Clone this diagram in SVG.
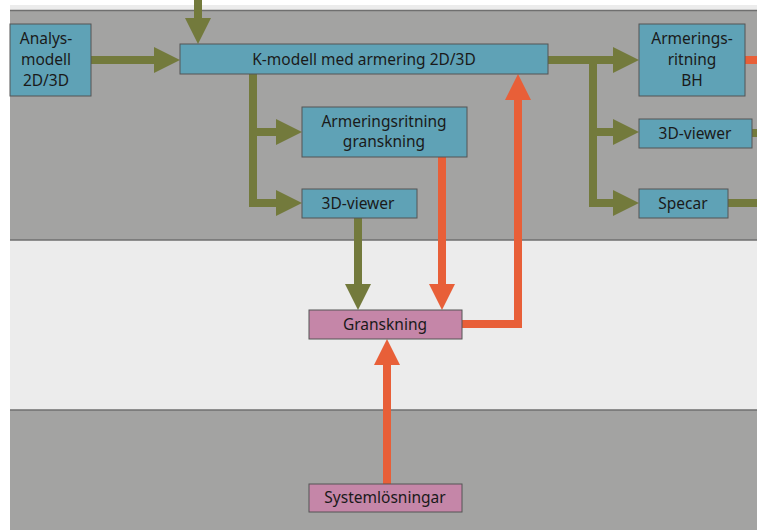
<svg xmlns="http://www.w3.org/2000/svg" width="757" height="530" viewBox="0 0 757 530">
<defs>
<style>
.node{fill:#5fa2b6;stroke:#555;stroke-width:1}
.pink{fill:#c586a8;stroke:#555;stroke-width:1}
.t{font-family:"Noto Sans","DejaVu Sans",sans-serif;font-size:15.5px;fill:#1a1a1a;text-anchor:middle}
.ol{fill:none;stroke:#737a3c;stroke-width:8;stroke-linejoin:miter}
.or{fill:none;stroke:#e85f38;stroke-width:8;stroke-linejoin:miter}
.bd{stroke:#6f6f6f;stroke-width:1.5}
</style>
<marker id="ao" markerUnits="userSpaceOnUse" markerWidth="27" markerHeight="27" refX="0" refY="13" orient="auto" viewBox="0 0 27 26"><path d="M0,0 L26,13 L0,26 z" fill="#737a3c"/></marker>
<marker id="ar" markerUnits="userSpaceOnUse" markerWidth="27" markerHeight="27" refX="0" refY="13" orient="auto" viewBox="0 0 27 26"><path d="M0,0 L26,13 L0,26 z" fill="#e85f38"/></marker>
</defs>
<g id="bands">
<rect x="0" y="0" width="757" height="530" fill="#ffffff"/>
<rect x="10" y="5" width="747" height="525" fill="#ececec"/>
<rect x="10" y="10" width="747" height="230" fill="#a3a3a2"/>
<rect x="10" y="410" width="747" height="120" fill="#a3a3a2"/>
<line class="bd" x1="10" y1="10.5" x2="757" y2="10.5"/>
<line class="bd" x1="10" y1="240" x2="757" y2="240"/>
<line class="bd" x1="10" y1="410" x2="757" y2="410"/>
</g>
<g id="connectors">
<path class="ol" d="M198,0 V18" marker-end="url(#ao)"/>
<path class="ol" d="M91,60 H154" marker-end="url(#ao)"/>
<path class="ol" d="M253,74 V203 H276" marker-end="url(#ao)"/>
<path class="ol" d="M253,132 H276" marker-end="url(#ao)"/>
<path class="ol" d="M548,60 H613" marker-end="url(#ao)"/>
<path class="ol" d="M593,60 V203 H613" marker-end="url(#ao)"/>
<path class="ol" d="M593,132 H613" marker-end="url(#ao)"/>
<path class="ol" d="M752,133 H757"/>
<path class="ol" d="M728,203 H757"/>
<path class="ol" d="M358,218 V284" marker-end="url(#ao)"/>
<path class="or" d="M442,157 V284" marker-end="url(#ar)"/>
<path class="or" d="M462,324 H518 V100" marker-end="url(#ar)"/>
<path class="or" d="M387,484 V365" marker-end="url(#ar)"/>
<path class="or" d="M745,60 H757"/>
</g>
<g id="analysmodell">
<rect class="node" x="10" y="24" width="81" height="72"/>
<text class="t" x="46" y="44">Analys-</text>
<text class="t" x="46" y="65">modell</text>
<text class="t" x="46" y="86">2D/3D</text>
</g>
<g id="kmodell">
<rect class="node" x="180" y="44" width="368" height="30"/>
<text class="t" x="364" y="65">K-modell med armering 2D/3D</text>
</g>
<g id="armgranskning">
<rect class="node" x="302" y="107" width="165" height="50"/>
<text class="t" x="384" y="127">Armeringsritning</text>
<text class="t" x="384" y="147">granskning</text>
</g>
<g id="viewer1">
<rect class="node" x="302" y="189" width="115" height="29"/>
<text class="t" x="358" y="209">3D-viewer</text>
</g>
<g id="armbh">
<rect class="node" x="639" y="24" width="106" height="72"/>
<text class="t" x="692" y="44">Armerings-</text>
<text class="t" x="692" y="65">ritning</text>
<text class="t" x="692" y="86">BH</text>
</g>
<g id="viewer2">
<rect class="node" x="639" y="119" width="113" height="29"/>
<text class="t" x="695" y="139">3D-viewer</text>
</g>
<g id="specar">
<rect class="node" x="639" y="189" width="89" height="29"/>
<text class="t" x="683" y="209">Specar</text>
</g>
<g id="granskning">
<rect class="pink" x="309" y="310" width="153" height="29"/>
<text class="t" x="385" y="330">Granskning</text>
</g>
<g id="systemlosningar">
<rect class="pink" x="309" y="484" width="153" height="28"/>
<text class="t" x="385" y="503">Systemlösningar</text>
</g>
</svg>
